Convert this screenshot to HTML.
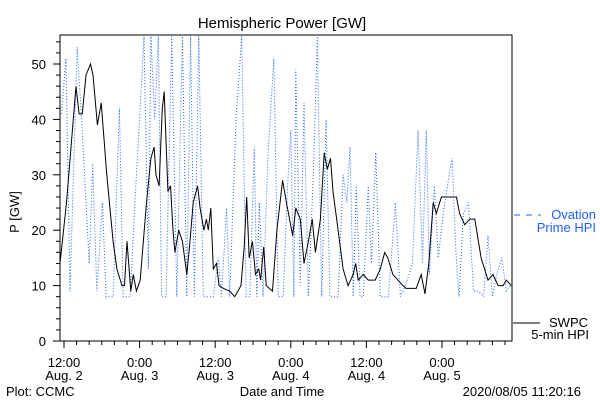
<!DOCTYPE html>
<html><head><meta charset="utf-8"><style>
html,body{margin:0;padding:0;background:#fff;}
svg{display:block;font-family:"Liberation Sans",sans-serif;}
</style></head><body>
<svg id="chart" width="600" height="400" viewBox="0 0 600 400" xmlns="http://www.w3.org/2000/svg">
<rect width="600" height="400" fill="#fff"/>
<text x="282" y="28" font-size="15" text-anchor="middle">Hemispheric Power [GW]</text>
<text transform="translate(19,212) rotate(-90)" font-size="13" text-anchor="middle">P [GW]</text>
<g id="axes"></g>
<g id="series"></g>
<g>
<line x1="514" y1="215" x2="541" y2="215" stroke="#2060ff" stroke-width="1" stroke-dasharray="6 6"/>
<text x="596" y="219" font-size="13" fill="#2060ff" text-anchor="end">Ovation</text>
<text x="596" y="232" font-size="13" fill="#2060ff" text-anchor="end">Prime HPI</text>
</g>
<g>
<line x1="513" y1="323" x2="540" y2="323" stroke="#000" stroke-width="1"/>
<text x="588" y="327" font-size="13" text-anchor="end">SWPC</text>
<text x="589" y="339" font-size="13" text-anchor="end">5-min HPI</text>
</g>
<text x="282" y="396" font-size="13" text-anchor="middle">Date and Time</text>
<text x="6" y="396" font-size="13">Plot: CCMC</text>
<text x="581" y="396" font-size="13" text-anchor="end">2020/08/05 11:20:16</text>
</svg>
<script>
const xTickHours = [0, 12, 24, 36, 48, 60];
const xTickTime = ["12:00", "0:00", "12:00", "0:00", "12:00", "0:00"];
const xTickDate = ["Aug. 2", "Aug. 3", "Aug. 3", "Aug. 4", "Aug. 4", "Aug. 5"];
const yTicks = [0, 10, 20, 30, 40, 50];
const swpcHours = [-0.6,0.4,1.9,2.4,2.9,3.5,4.2,4.6,5.3,5.9,6.8,7.8,8.4,9.2,9.6,10,10.6,11,11.5,12.1,13.1,13.8,14.3,14.6,15.1,15.6,15.9,16.5,16.9,17.3,17.6,18.2,18.8,19.5,20,20.5,21.2,21.6,22.2,22.6,22.9,23.3,23.7,24.2,24.6,25.3,26.3,27.1,27.6,28.1,28.6,29,29.4,29.9,30.4,30.9,31.2,31.7,32.1,33.1,33.8,34.7,35.3,36.3,36.8,37.5,38.1,38.8,39.4,39.9,40.7,41.3,41.8,42.3,42.7,43.5,44.3,45.1,45.9,46.3,46.7,47.5,48.3,49.4,50.2,50.9,51.4,52.2,53,53.8,54.3,55.9,56.7,57.3,57.9,58.6,59.1,59.9,62.3,62.8,63.6,64.4,65.2,66.2,67.3,68.1,68.9,69.7,70.2,71];
const swpcValues = [14.3,25,46,41,41,48,50,48,39,43,30,18,13,10,10,18,9,12,9,11,25,33,35,30,28,42,45,27,28,20,16,20,18,12,18,25,28,24,20,22,20,24,13,14,10,9.5,9,8,9,10,17,26,15,18,12,13,11,17,10,9,20,29,25,19,24,22,14,18,22,16,22,34,31,33,27,20,13,10,12,14,11,12,11,11,13,16,15,12,11,10,9.5,9.5,12,8.5,14,25,23,26,26,23,21,22,22,15,11,12,10,10,11,10];
const ovationHours = [-0.4,0.3,0.96,2.1,2.8,4,4.55,5.2,6.1,6.7,7.8,8.8,9.4,10.5,11.3,12.1,12.7,13.4,13.8,14.4,14.97,15.5,16.2,17.1,17.9,18.8,19.5,20.1,20.7,21.4,22.1,22.9,23.7,24.5,25,25.8,26.3,27.3,28.2,28.9,29.5,30.2,30.6,31,31.6,32.4,33.3,34,34.8,35.5,36,36.5,36.8,37.5,38.1,38.8,39.6,40.2,40.9,41.6,42.2,42.8,43.5,44.3,44.9,45.4,45.9,46.4,47,47.5,48.3,48.8,49.5,50.2,51.5,52.6,53.4,54.2,55.3,56.2,56.9,57.5,58,58.8,59.4,60.2,61,61.6,62.2,62.7,63.4,64.2,65,65.8,66.6,67.3,68,68.7,69.5,70.2,70.9];
const ovationValues = [41,51,9,53,40,14,32,9,25,8,8,42,8,8,26,42,55,13,55,40,55,8,8,55,8,55,8,55,8,55,8,8,8,15,8,24,8,40,55,8,8,35,8,25,8,34,51,8,8,28,38,8,49,10,43,8,31,55,8,40,8,8,8,30,25,35,8,28,8,8,28,14,34,8,8,25,8,10,14,38,14,38,12,28,15,23,29,33,16,8,23,25,9,9,8,19,8,12,15,9,10];

const NS = "http://www.w3.org/2000/svg";
const L = 60, R = 512, T = 35, B = 341;
const X0 = 64, HPX = 6.3, YPX = 5.54, YMAX = 55;
function xs(h) { return X0 + h * HPX; }
function ys(v) { return B - Math.min(v, YMAX) * YPX; }
function mk(tag, attrs, parent) {
  const e = document.createElementNS(NS, tag);
  for (const k in attrs) e.setAttribute(k, attrs[k]);
  parent.appendChild(e);
  return e;
}
const axes = document.getElementById("axes");
const series = document.getElementById("series");

const frame = mk("rect", {x: L, y: T, width: R - L, height: B - T, fill: "none", stroke: "#000", "stroke-width": 1}, axes);



for (let v = 0; v <= YMAX; v += 2) {
  const major = v % 10 === 0;
  const t = mk("line", {x1: L, x2: L - (major ? 7 : 4), y1: ys(v), y2: ys(v), stroke: "#000", "stroke-width": 1}, axes);
  
  
}
yTicks.forEach(function (v) {
  const t = mk("text", {x: 46, y: ys(v) + 5, "font-size": 13, "text-anchor": "end"}, axes);
  t.textContent = String(v);
  
  
});
for (let h = 0; xs(h) < R; h += 2) {
  const major = h % 12 === 0;
  const t = mk("line", {x1: xs(h), x2: xs(h), y1: B, y2: B + (major ? 7 : 4), stroke: "#000", "stroke-width": 1}, axes);
  
  
}
xTickHours.forEach(function (h, i) {
  const a = mk("text", {x: xs(h), y: 367, "font-size": 13, "text-anchor": "middle"}, axes);
  a.textContent = xTickTime[i];
  
  
  const b = mk("text", {x: xs(h), y: 380, "font-size": 13, "text-anchor": "middle"}, axes);
  b.textContent = xTickDate[i];
  
  
});

mk("clipPath", {id: "pc"}, series);
mk("rect", {x: L, y: T, width: R - L, height: B - T}, series.lastChild);

const ovPts = ovationHours.map(function (h, i) { return xs(h).toFixed(1) + "," + ys(ovationValues[i]).toFixed(1); }).join(" ");
const ov = mk("polyline", {points: ovPts, fill: "none", stroke: "#2060ff", "stroke-width": 1, "stroke-dasharray": "1 2", "clip-path": "url(#pc)"}, series);



const swPts = swpcHours.map(function (h, i) { return xs(h).toFixed(1) + "," + ys(swpcValues[i]).toFixed(1); }).join(" ");
const sw = mk("polyline", {points: swPts, fill: "none", stroke: "#000", "stroke-width": 1, "clip-path": "url(#pc)"}, series);


</script>
</body></html>
